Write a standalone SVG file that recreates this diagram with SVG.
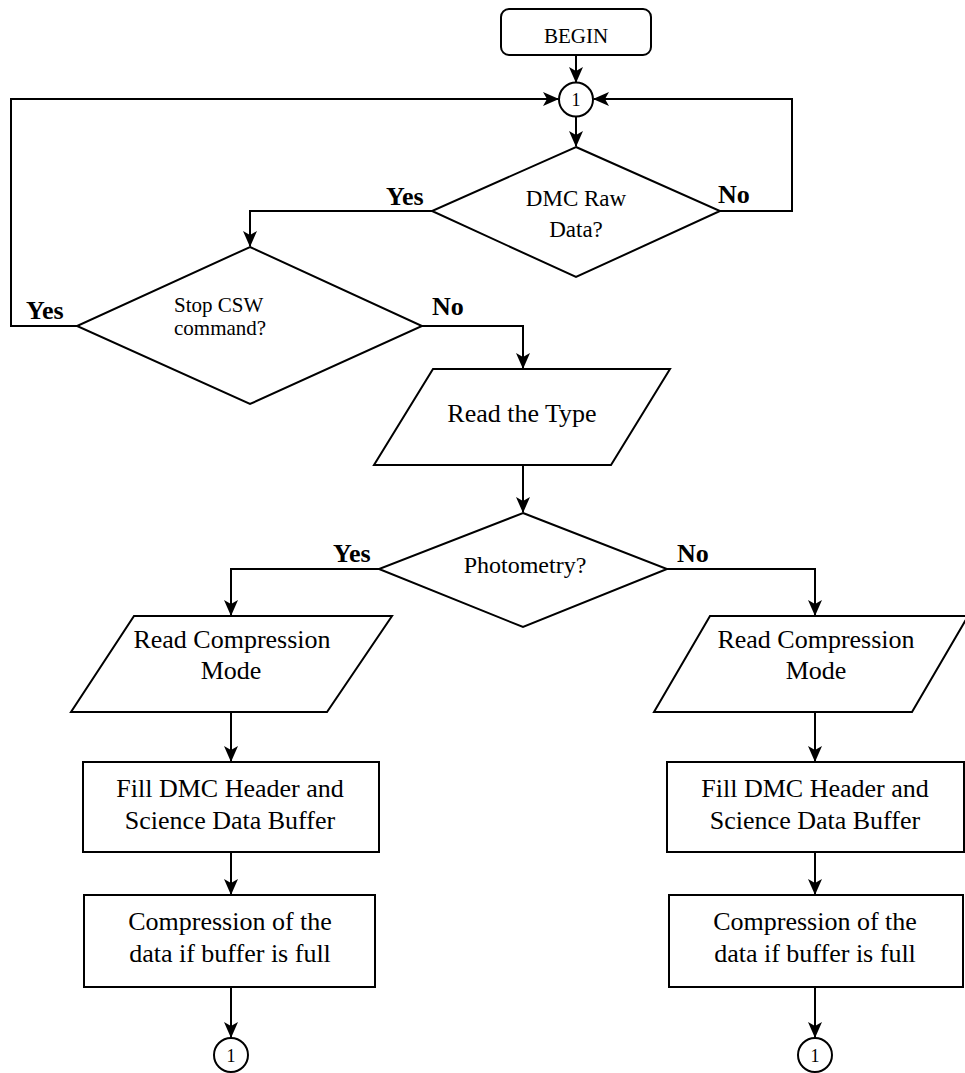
<svg xmlns="http://www.w3.org/2000/svg" width="965" height="1073" viewBox="0 0 965 1073">
<defs>
<marker id="arr" markerUnits="userSpaceOnUse" markerWidth="16" markerHeight="14" viewBox="0 0 16 14" refX="15" refY="7" orient="auto">
<path d="M0,0 L16,7 L0,14 L4,7 z" fill="#000"/>
</marker>
</defs>
<style>
.s{fill:#fff;stroke:#000;stroke-width:2}
.c{fill:none;stroke:#000;stroke-width:2}
.t{font-family:"Liberation Serif","Times New Roman",serif;fill:#000}
.m{text-anchor:middle}
.b{font-weight:bold;font-size:26px}
</style>
<rect width="965" height="1073" fill="#fff"/>
<g id="connectors" class="c">
<path d="M576,55 V82" marker-end="url(#arr)"/>
<path d="M576,117 V146" marker-end="url(#arr)"/>
<path d="M432,211 H250 V246" marker-end="url(#arr)"/>
<path d="M720,211 H792 V99 H594" marker-end="url(#arr)"/>
<path d="M77,326 H11 V99 H558" marker-end="url(#arr)"/>
<path d="M422,326 H523 V368" marker-end="url(#arr)"/>
<path d="M523,465 V512" marker-end="url(#arr)"/>
<path d="M379,569 H231 V615" marker-end="url(#arr)"/>
<path d="M667,569 H815 V615" marker-end="url(#arr)"/>
<path d="M231,712 V761" marker-end="url(#arr)"/>
<path d="M231,852 V894" marker-end="url(#arr)"/>
<path d="M231,987 V1037" marker-end="url(#arr)"/>
<path d="M815,712 V761" marker-end="url(#arr)"/>
<path d="M815,852 V894" marker-end="url(#arr)"/>
<path d="M815,987 V1037" marker-end="url(#arr)"/>
</g>
<g id="labels" class="t b">
<text x="386" y="205">Yes</text>
<text x="718" y="203">No</text>
<text x="26" y="319">Yes</text>
<text x="432" y="315">No</text>
<text x="333" y="562">Yes</text>
<text x="677" y="562">No</text>
</g>
<g id="begin">
<rect class="s" x="501" y="9" width="150" height="46" rx="8"/>
<text class="t m" x="576" y="43" font-size="21">BEGIN</text>
</g>
<g id="conn-top">
<circle class="s" cx="576" cy="99.5" r="17"/>
<text class="t m" x="576" y="106" font-size="18">1</text>
</g>
<g id="dmc-raw">
<polygon class="s" points="576,147 720,211 576,277 432,211"/>
<text class="t m" x="576" y="206" font-size="23">DMC Raw</text>
<text class="t m" x="576" y="237" font-size="23">Data?</text>
</g>
<g id="stop-csw">
<polygon class="s" points="250,247 422,326 250,404 77,326"/>
<text class="t" x="174" y="312" font-size="21">Stop CSW</text>
<text class="t" x="174" y="335" font-size="21">command?</text>
</g>
<g id="read-type">
<polygon class="s" points="433,369 670,369 611,465 374,465"/>
<text class="t m" x="522" y="422" font-size="26">Read the Type</text>
</g>
<g id="photometry">
<polygon class="s" points="523,513 667,569 523,627 379,569"/>
<text class="t m" x="525" y="573" font-size="24">Photometry?</text>
</g>
<g id="rcm-left">
<polygon class="s" points="134,616 392,616 327,712 71,712"/>
<text class="t m" x="232" y="648" font-size="26">Read Compression</text>
<text class="t m" x="231" y="679" font-size="26">Mode</text>
</g>
<g id="rcm-right">
<polygon class="s" points="710,616 968,616 912,712 654,712"/>
<text class="t m" x="816" y="648" font-size="26">Read Compression</text>
<text class="t m" x="816" y="679" font-size="26">Mode</text>
</g>
<g id="fill-left">
<rect class="s" x="83" y="762" width="296" height="90"/>
<text class="t m" x="230" y="797" font-size="26">Fill DMC Header and</text>
<text class="t m" x="230" y="829" font-size="26">Science Data Buffer</text>
</g>
<g id="fill-right">
<rect class="s" x="667" y="762" width="297" height="90"/>
<text class="t m" x="815" y="797" font-size="26">Fill DMC Header and</text>
<text class="t m" x="815" y="829" font-size="26">Science Data Buffer</text>
</g>
<g id="comp-left">
<rect class="s" x="84" y="895" width="291" height="92"/>
<text class="t m" x="230" y="930" font-size="26">Compression of the</text>
<text class="t m" x="230" y="962" font-size="26">data if buffer is full</text>
</g>
<g id="comp-right">
<rect class="s" x="669" y="895" width="294" height="92"/>
<text class="t m" x="815" y="930" font-size="26">Compression of the</text>
<text class="t m" x="815" y="962" font-size="26">data if buffer is full</text>
</g>
<g id="conn-left">
<circle class="s" cx="231" cy="1055" r="17"/>
<text class="t m" x="231" y="1062" font-size="18">1</text>
</g>
<g id="conn-right">
<circle class="s" cx="815" cy="1055" r="17"/>
<text class="t m" x="815" y="1062" font-size="18">1</text>
</g>
</svg>
